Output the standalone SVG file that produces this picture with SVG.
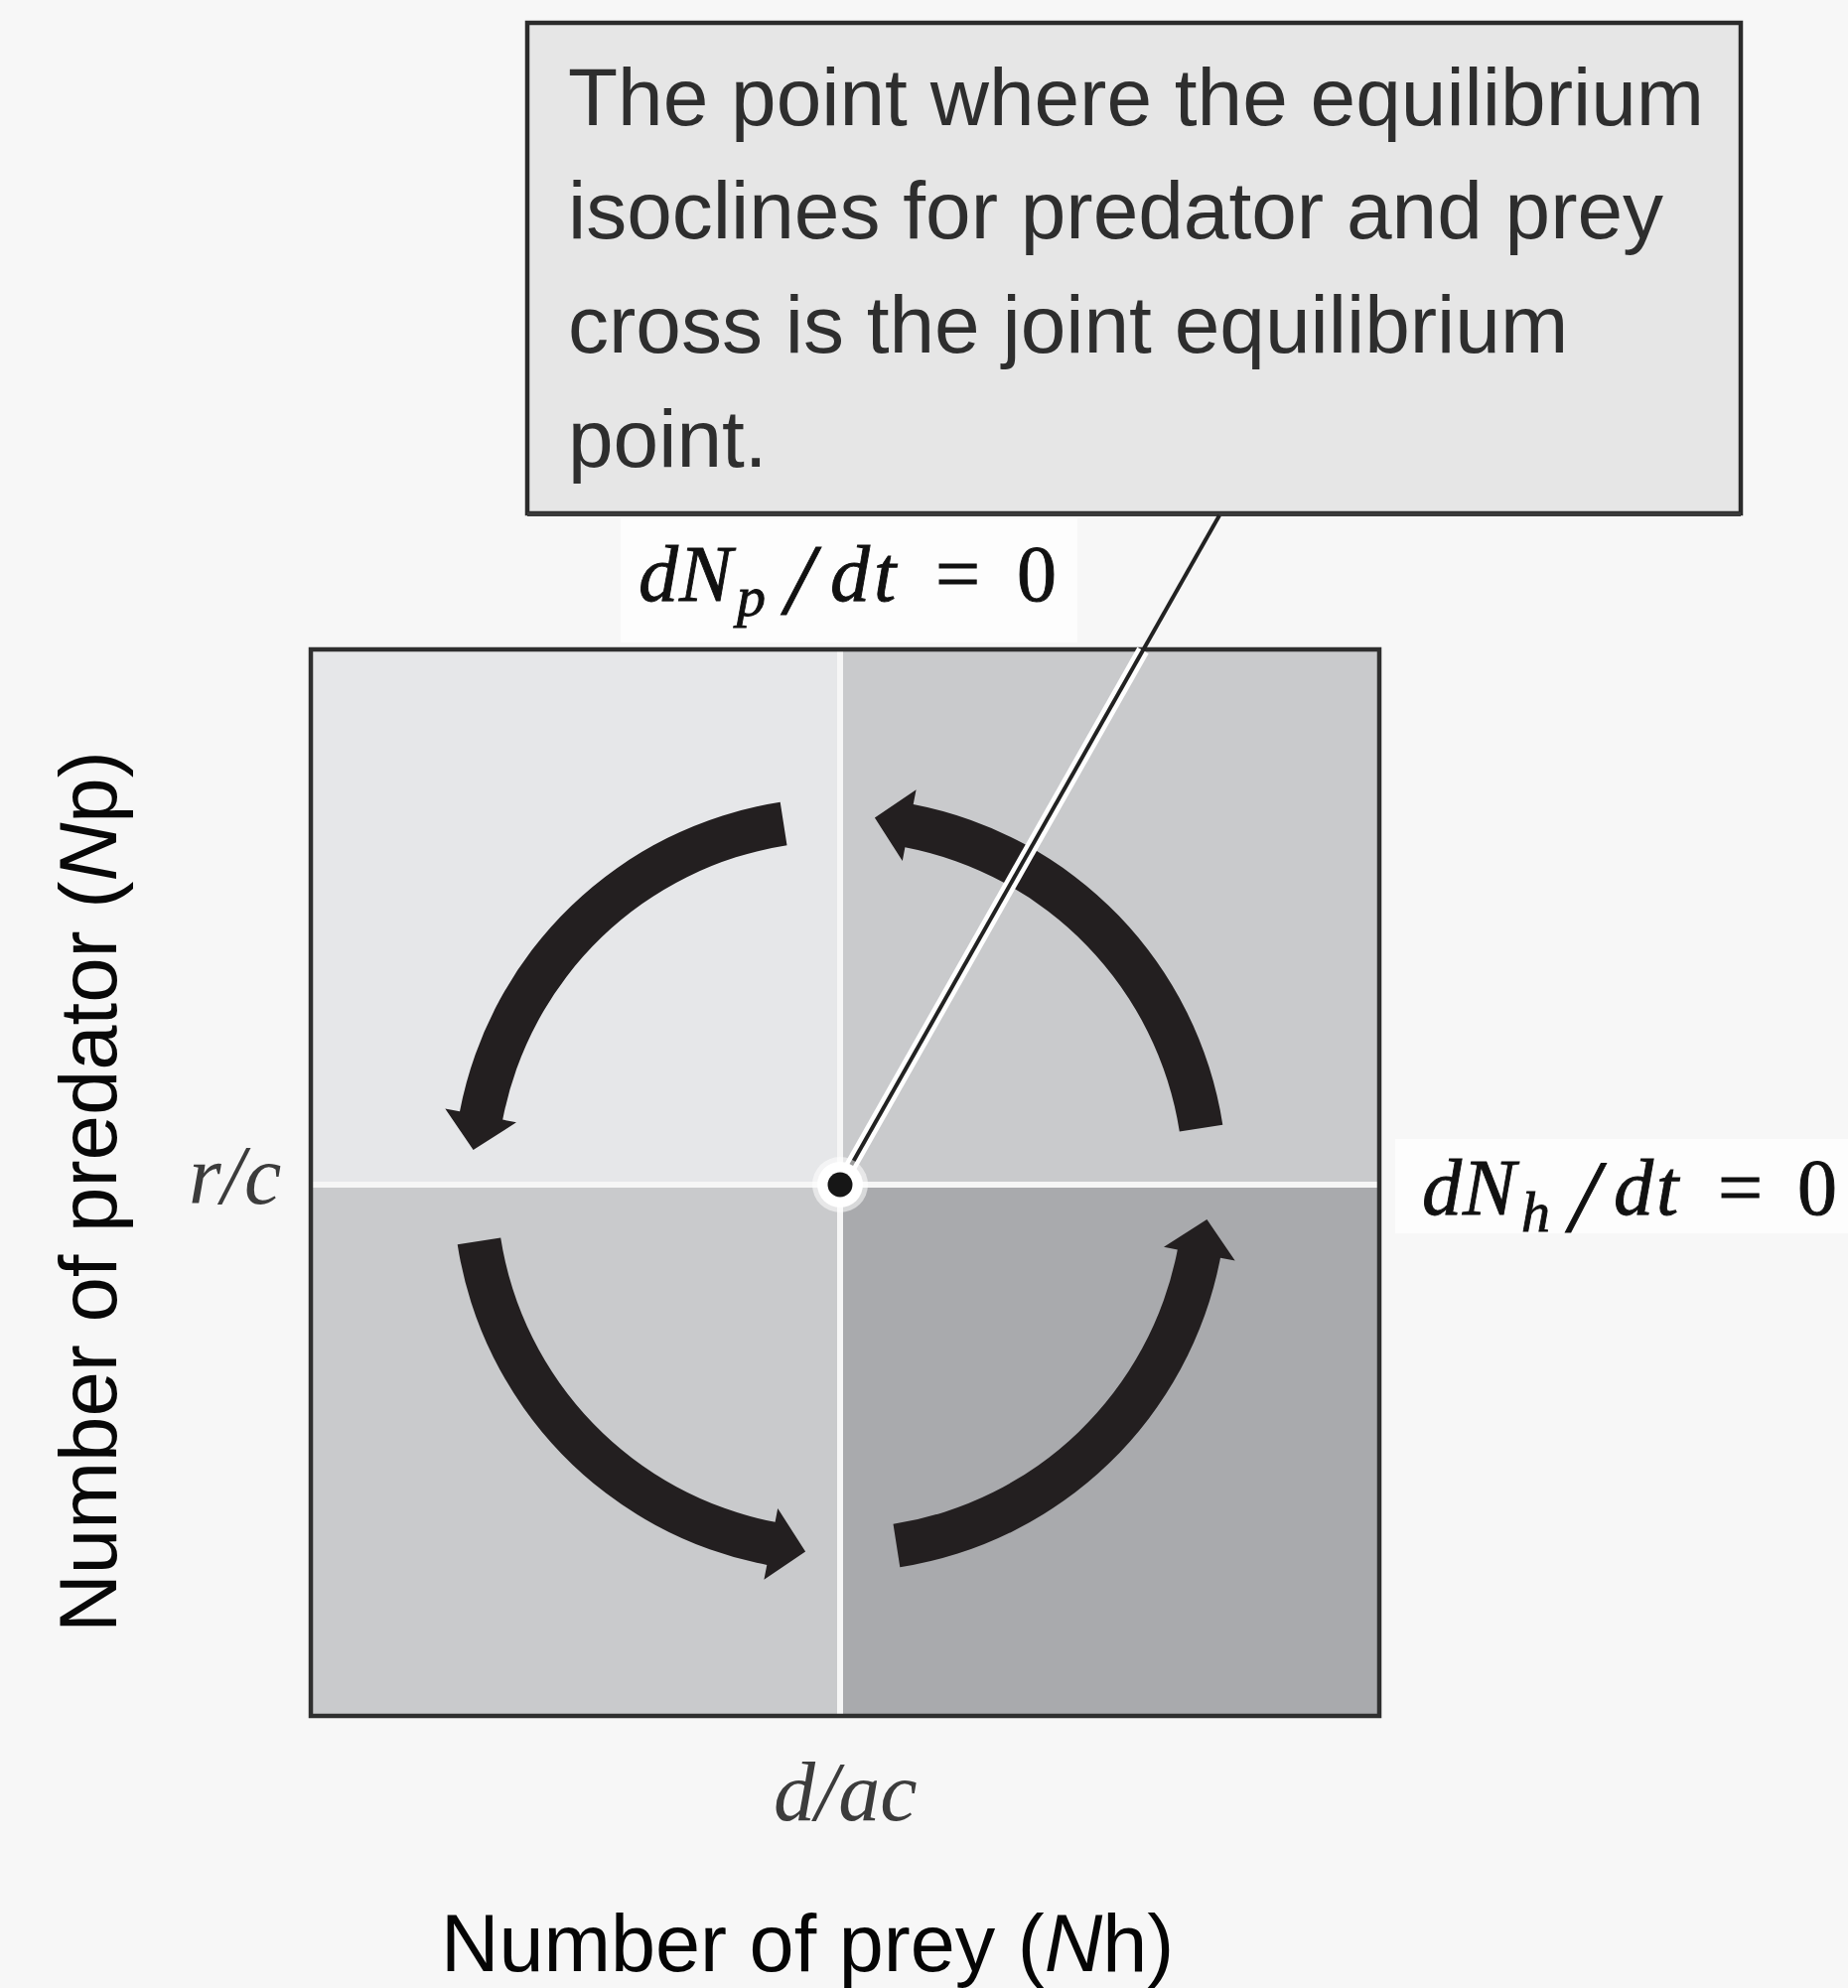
<svg xmlns="http://www.w3.org/2000/svg" width="1861" height="2002" viewBox="0 0 1861 2002">
  <style>
    .sans { font-family: "Liberation Sans", Arial, sans-serif; }
    .math { font-family: "Liberation Serif", "Times New Roman", serif; font-style: italic; fill: #111; stroke: #111; stroke-width: 0.9; }
    .up { font-style: normal; }
    .callout-text { font-size: 82px; fill: #2e2e2e; }
    .arrow { fill: #231f20; }
    .divider { stroke: #f6f6f6; stroke-width: 6; }
    .lbl-bg { fill: #fdfdfd; }
    .tick { font-family: "Liberation Serif", "Times New Roman", serif; font-style: italic; font-size: 84px; fill: #3c3c3c; }
  </style>
  <defs>
    <path id="arrowShape" d="M 1231.3 1132.7 A 390 390 0 0 0 919.7 810.0 L 922.6 795.3 L 880.9 823.6 L 908.8 867.0 L 911.4 853.2 A 346 346 0 0 1 1187.8 1139.5 Z"/>
  </defs>

  <rect x="0" y="0" width="1861" height="2002" fill="#f7f7f7"/>

  <!-- label backgrounds -->
  <rect class="lbl-bg" x="625" y="522" width="460" height="125"/>
  <rect class="lbl-bg" x="1405" y="1147" width="456" height="95"/>

  <!-- callout node -->
  <g id="callout">
    <rect x="531" y="23" width="1222" height="494" fill="#e6e6e6" stroke="#2b2b2b" stroke-width="4.5"/>
    <line x1="531" y1="518" x2="1753" y2="518" stroke="#3a3a3a" stroke-width="4"/>
    <text class="sans callout-text" x="572" y="126">The point where the equilibrium</text>
    <text class="sans callout-text" x="572" y="240">isoclines for predator and prey</text>
    <text class="sans callout-text" x="572" y="355">cross is the joint equilibrium</text>
    <text class="sans callout-text" x="572" y="470">point.</text>
  </g>

  <!-- phase plane -->
  <g id="plot">
    <rect x="313" y="654" width="533" height="539" fill="#e6e7e9"/>
    <rect x="846" y="654" width="543" height="539" fill="#c9cacc"/>
    <rect x="313" y="1193" width="533" height="535" fill="#c9cacc"/>
    <rect x="846" y="1193" width="543" height="535" fill="#a9aaad"/>
    <line class="divider" x1="846" y1="656" x2="846" y2="1726"/>
    <line class="divider" x1="315" y1="1193" x2="1387" y2="1193"/>
    <rect x="313" y="654" width="1076" height="1074" fill="none" stroke="#2f2f2f" stroke-width="4.5"/>
  </g>

  <!-- cycle arrows -->
  <g id="arrows">
    <use id="arrow-ur" href="#arrowShape" class="arrow"/>
    <use id="arrow-ul" href="#arrowShape" class="arrow" transform="rotate(-90 846 1193)"/>
    <use id="arrow-ll" href="#arrowShape" class="arrow" transform="rotate(180 846 1193)"/>
    <use id="arrow-lr" href="#arrowShape" class="arrow" transform="rotate(90 846 1193)"/>
  </g>

  <!-- connector: leader from callout to equilibrium point -->
  <g id="connectors">
    <line x1="846" y1="1193" x2="1151" y2="655" stroke="#ffffff" stroke-width="13"/>
    <line x1="846" y1="1193" x2="1228" y2="519" stroke="#222" stroke-width="4"/>
  </g>

  <!-- equilibrium point -->
  <g id="equilibrium-point">
    <circle cx="846" cy="1193" r="28" fill="#ffffff" opacity="0.55"/>
    <circle cx="846" cy="1193" r="23" fill="#ffffff"/>
    <circle cx="846" cy="1193" r="12.5" fill="#161616"/>
  </g>

  <!-- isocline labels -->
  <g id="label-dNp">
    <text class="math" font-size="80" y="605">
      <tspan x="643">d</tspan><tspan x="684">N</tspan><tspan x="742" y="620" font-size="58">p</tspan><tspan x="791" y="618" font-size="102">/</tspan><tspan x="836" y="605">d</tspan><tspan x="880">t</tspan><tspan class="up" x="942">=</tspan><tspan class="up" x="1024">0</tspan>
    </text>
  </g>
  <g id="label-dNh">
    <text class="math" font-size="80" y="1223">
      <tspan x="1432">d</tspan><tspan x="1473">N</tspan><tspan x="1532" y="1240" font-size="58">h</tspan><tspan x="1581" y="1240" font-size="104">/</tspan><tspan x="1625" y="1223">d</tspan><tspan x="1668">t</tspan><tspan class="up" x="1730">=</tspan><tspan class="up" x="1810">0</tspan>
    </text>
  </g>

  <!-- axis tick labels -->
  <text id="label-rc" class="tick" x="190" y="1212">r/c</text>
  <text id="label-dac" class="tick" x="779" y="1833">d/ac</text>

  <!-- axis titles -->
  <text id="x-axis-title" class="sans" x="444" y="1985" font-size="81" fill="#050505">Number of prey (<tspan font-style="italic">N</tspan>h)</text>
  <text id="y-axis-title" class="sans" font-size="81.5" fill="#080808" transform="translate(117 1644) rotate(-90)" x="0" y="0">Number of predator (<tspan font-style="italic">N</tspan>p)</text>
</svg>
